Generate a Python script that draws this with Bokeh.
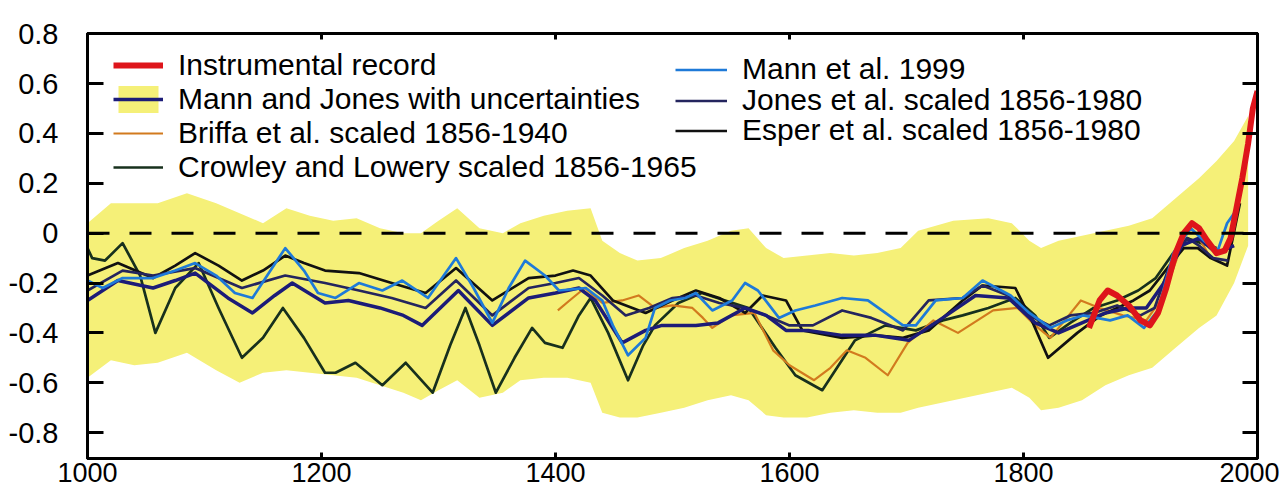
from bokeh.plotting import figure
from bokeh.models import (Range1d, LinearAxis, FixedTicker, Legend, LegendItem, Span,
                          CustomJSTickFormatter)
from bokeh.embed import file_html
from bokeh.resources import INLINE

FONT = "Liberation Sans"

# ---------------- data ----------------
x_ticks = [1000, 1200, 1400, 1600, 1800, 2000]
y_ticks = [-0.8, -0.6, -0.4, -0.2, 0.0, 0.2, 0.4, 0.6, 0.8]

band_years = [1000, 1020, 1040, 1060, 1085, 1110, 1130, 1150, 1170, 1190, 1210, 1230, 1250, 1270,
              1285, 1300, 1316, 1335, 1355, 1370, 1390, 1410, 1430, 1440, 1455, 1470, 1490, 1510,
              1530, 1550, 1565, 1580, 1595, 1615, 1635, 1655, 1675, 1695, 1710, 1740, 1770, 1790,
              1805, 1815, 1830, 1850, 1870, 1890, 1910, 1930, 1950, 1965, 1980, 1992]
band_upper = [0.04, 0.12, 0.12, 0.12, 0.16, 0.12, 0.08, 0.04, 0.10, 0.07, 0.05, 0.06, 0.02, 0.00,
              0.00, 0.05, 0.10, 0.02, 0.00, 0.04, 0.07, 0.09, 0.10, -0.03, -0.08, -0.11, -0.10, -0.06,
              -0.03, 0.01, 0.02, -0.06, -0.10, -0.09, -0.08, -0.09, -0.08, -0.06, 0.01, 0.05, 0.06, 0.04,
              -0.03, -0.06, -0.03, -0.01, 0.01, 0.03, 0.06, 0.14, 0.22, 0.29, 0.37, 0.47]
band_lower = [-0.58, -0.51, -0.53, -0.52, -0.48, -0.55, -0.60, -0.56, -0.55, -0.56, -0.57, -0.58, -0.61, -0.64,
              -0.67, -0.63, -0.59, -0.66, -0.64, -0.59, -0.58, -0.58, -0.60, -0.72, -0.74, -0.74, -0.72, -0.70,
              -0.67, -0.65, -0.67, -0.73, -0.74, -0.74, -0.72, -0.71, -0.72, -0.72, -0.70, -0.67, -0.64, -0.62,
              -0.66, -0.71, -0.70, -0.67, -0.61, -0.57, -0.54, -0.46, -0.38, -0.33, -0.20, -0.05]

mj_years = [1000, 1026, 1056, 1075, 1092, 1120, 1141, 1160, 1175, 1203, 1223, 1250, 1270, 1286, 1317,
            1346, 1377, 1400, 1420, 1434, 1457, 1477, 1491, 1520, 1539, 1562, 1580, 1597, 1616, 1645,
            1674, 1702, 1731, 1759, 1787, 1810, 1830, 1850, 1870, 1890, 1905, 1920, 1935, 1950, 1965, 1980]
mj_vals = [-0.27, -0.19, -0.22, -0.19, -0.16, -0.26, -0.32, -0.25, -0.20, -0.28, -0.27, -0.30, -0.33, -0.37, -0.23,
           -0.37, -0.26, -0.24, -0.22, -0.27, -0.44, -0.39, -0.37, -0.37, -0.36, -0.30, -0.33, -0.39, -0.39, -0.41,
           -0.41, -0.43, -0.34, -0.25, -0.26, -0.36, -0.40, -0.36, -0.32, -0.30, -0.30, -0.20, -0.05, -0.02, -0.08, -0.05]

m99_years = [1000, 1013, 1030, 1056, 1075, 1092, 1110, 1126, 1141, 1155, 1169, 1185, 1197, 1212, 1232, 1252,
             1269, 1291, 1315, 1330, 1346, 1360, 1374, 1391, 1403, 1426, 1440, 1449, 1462, 1477, 1485, 1498,
             1511, 1520, 1534, 1551, 1562, 1573, 1591, 1605, 1622, 1645, 1667, 1697, 1708, 1725, 1748, 1765,
             1789, 1805, 1823, 1837, 1851, 1874, 1889, 1903, 1915, 1928, 1943, 1954, 1966, 1974, 1980]
m99_vals = [-0.19, -0.22, -0.18, -0.18, -0.15, -0.12, -0.17, -0.24, -0.26, -0.16, -0.06, -0.15, -0.24, -0.26, -0.20, -0.23,
            -0.19, -0.26, -0.10, -0.22, -0.36, -0.22, -0.11, -0.17, -0.23, -0.22, -0.27, -0.37, -0.49, -0.42, -0.30, -0.27,
            -0.26, -0.24, -0.31, -0.27, -0.20, -0.23, -0.34, -0.31, -0.29, -0.26, -0.27, -0.37, -0.37, -0.27, -0.26, -0.19,
            -0.25, -0.32, -0.38, -0.35, -0.33, -0.35, -0.33, -0.38, -0.31, -0.08, 0.02, -0.03, -0.07, 0.04, 0.08]

jones_years = [1000, 1030, 1056, 1092, 1132, 1169, 1203, 1232, 1260, 1289, 1315, 1346, 1377, 1400, 1420,
               1440, 1460, 1480, 1500, 1520, 1540, 1562, 1580, 1600, 1620, 1645, 1670, 1697, 1719, 1748,
               1765, 1787, 1805, 1822, 1840, 1860, 1880, 1900, 1912, 1925, 1940, 1950, 1962, 1975]
jones_vals = [-0.23, -0.15, -0.17, -0.14, -0.22, -0.17, -0.20, -0.23, -0.26, -0.30, -0.19, -0.33, -0.22, -0.20, -0.18,
              -0.25, -0.33, -0.30, -0.26, -0.25, -0.28, -0.30, -0.33, -0.37, -0.37, -0.31, -0.34, -0.39, -0.27, -0.26,
              -0.21, -0.25, -0.33, -0.37, -0.33, -0.32, -0.29, -0.33, -0.30, -0.13, -0.02, -0.05, -0.10, -0.11]

esper_years = [1000, 1026, 1056, 1075, 1092, 1112, 1132, 1150, 1169, 1185, 1203, 1232, 1260, 1289, 1315, 1346,
               1377, 1400, 1415, 1430, 1449, 1477, 1500, 1520, 1540, 1562, 1577, 1597, 1611, 1645, 1674, 1697,
               1719, 1748, 1765, 1793, 1808, 1821, 1846, 1866, 1894, 1908, 1923, 1937, 1949, 1960, 1974, 1985]
esper_vals = [-0.17, -0.12, -0.18, -0.13, -0.08, -0.13, -0.19, -0.15, -0.09, -0.12, -0.15, -0.16, -0.20, -0.24, -0.14, -0.27,
              -0.18, -0.17, -0.15, -0.17, -0.27, -0.32, -0.27, -0.23, -0.26, -0.32, -0.25, -0.27, -0.39, -0.42, -0.41, -0.42,
              -0.39, -0.27, -0.21, -0.22, -0.36, -0.50, -0.40, -0.33, -0.27, -0.23, -0.14, -0.06, -0.06, -0.10, -0.13, 0.12]

crowley_years = [1000, 1004, 1015, 1030, 1045, 1058, 1075, 1095, 1112, 1132, 1150, 1167, 1185, 1203, 1212, 1229,
                 1252, 1272, 1295, 1310, 1323, 1335, 1349, 1365, 1380, 1391, 1406, 1420, 1430, 1445, 1462, 1475,
                 1485, 1505, 1525, 1545, 1565, 1588, 1605, 1628, 1656, 1682, 1708, 1731, 1748, 1770, 1793, 1810,
                 1822, 1840, 1860, 1880, 1898, 1913, 1928, 1940, 1952, 1965]
crowley_vals = [-0.06, -0.10, -0.11, -0.04, -0.17, -0.40, -0.22, -0.12, -0.30, -0.50, -0.42, -0.30, -0.42, -0.56, -0.56, -0.52,
                -0.61, -0.52, -0.64, -0.45, -0.30, -0.45, -0.64, -0.50, -0.38, -0.44, -0.46, -0.33, -0.26, -0.40, -0.59, -0.45,
                -0.37, -0.28, -0.24, -0.27, -0.30, -0.46, -0.57, -0.63, -0.43, -0.37, -0.39, -0.35, -0.33, -0.30, -0.26, -0.33,
                -0.42, -0.36, -0.30, -0.27, -0.23, -0.18, -0.08, -0.02, -0.04, -0.06]

briffa_years = [1402, 1412, 1425, 1440, 1457, 1471, 1485, 1500, 1517, 1526, 1534, 1550, 1570, 1586, 1600, 1621,
                1635, 1649, 1665, 1684, 1701, 1723, 1744, 1774, 1795, 1810, 1823, 1837, 1849, 1865, 1885, 1905,
                1920, 1935, 1950, 1960]
briffa_vals = [-0.31, -0.27, -0.22, -0.28, -0.27, -0.25, -0.30, -0.29, -0.30, -0.34, -0.38, -0.33, -0.32, -0.47, -0.53, -0.59,
               -0.54, -0.47, -0.50, -0.57, -0.44, -0.35, -0.40, -0.31, -0.30, -0.37, -0.42, -0.34, -0.27, -0.30, -0.33, -0.35,
               -0.25, -0.05, -0.02, -0.10]

instr_years = [1856, 1865, 1872, 1880, 1890, 1900, 1908, 1915, 1922, 1930, 1937, 1944, 1950, 1957, 1965, 1972,
               1977, 1982, 1987, 1992, 1996, 2000]
instr_vals = [-0.38, -0.27, -0.23, -0.25, -0.29, -0.35, -0.37, -0.32, -0.22, -0.08, 0.00, 0.04, 0.02, -0.03, -0.08, -0.07,
              -0.02, 0.10, 0.22, 0.36, 0.50, 0.57]

labels_left = ["Instrumental record", "Mann and Jones with uncertainties",
               "Briffa et al. scaled 1856-1940", "Crowley and Lowery scaled 1856-1965"]
labels_right = ["Mann et al. 1999", "Jones et al. scaled 1856-1980", "Esper et al. scaled 1856-1980"]

# ---------------- figure ----------------
p = figure(frame_width=1170, frame_height=425, output_backend="svg", toolbar_location=None,
           x_range=Range1d(1000, 2000), y_range=Range1d(-0.904, 0.801),
           min_border_left=87, min_border_right=22, min_border_top=33, min_border_bottom=34,
           background_fill_color="white", border_fill_color="white",
           outline_line_color="black", outline_line_width=3)
p.grid.visible = False

r_band = p.varea(x=band_years, y1=band_lower, y2=band_upper, fill_color="#f5f078", fill_alpha=1.0)
p.add_layout(Span(location=0, dimension="width", line_color="black", line_width=3, line_dash="22 20"))

lw = 2.7
r_cr = p.line(crowley_years, crowley_vals, line_color="#17301d", line_width=lw, line_join="round")
r_br = p.line(briffa_years, briffa_vals, line_color="#d27a1e", line_width=2.2, line_join="round")
r_es = p.line(esper_years, esper_vals, line_color="#111111", line_width=lw, line_join="round")
r_jo = p.line(jones_years, jones_vals, line_color="#24255e", line_width=lw, line_join="round")
r_mj = p.line(mj_years, mj_vals, line_color="#1c1c78", line_width=3.5, line_join="round")
r_m99 = p.line(m99_years, m99_vals, line_color="#1e7ad8", line_width=lw, line_join="round")
r_in = p.line(instr_years, instr_vals, line_color="#de151b", line_width=6, line_join="round")

# ---------------- axes ----------------
xb = p.xaxis[0]
xb.ticker = FixedTicker(ticks=x_ticks)
yl = p.yaxis[0]
yl.ticker = FixedTicker(ticks=y_ticks)
yl.formatter = CustomJSTickFormatter(code="return Math.abs(tick) < 1e-9 ? '0' : tick.toFixed(1);")

for ax in (xb, yl):
    ax.axis_line_width = 3
    ax.axis_line_color = "black"
    ax.major_tick_out = 0
    ax.minor_tick_in = 0
    ax.minor_tick_out = 0
    ax.major_tick_line_width = 3
    ax.major_label_text_font = FONT
    ax.major_label_text_color = "black"
xb.major_label_text_font_size = "27px"
yl.major_label_text_font_size = "29px"
xb.major_tick_in = 6
xb.major_label_standoff = 4
yl.major_tick_in = 16
yl.major_label_standoff = 29

blank = CustomJSTickFormatter(code="return '';")
top = LinearAxis(ticker=FixedTicker(ticks=x_ticks), formatter=blank, axis_line_width=3,
                 major_tick_in=6, major_tick_out=0, minor_tick_in=0, minor_tick_out=0,
                 major_tick_line_width=3, major_label_standoff=0, major_label_text_font_size="1px")
right = LinearAxis(ticker=FixedTicker(ticks=y_ticks), formatter=blank, axis_line_width=3,
                   major_tick_in=15, major_tick_out=0, minor_tick_in=0, minor_tick_out=0,
                   major_tick_line_width=3, major_label_standoff=0, major_label_text_font_size="1px")
p.add_layout(top, "above")
p.add_layout(right, "right")

# ---------------- legends ----------------
def style(leg, gw, gh):
    leg.label_text_font = FONT
    leg.label_text_font_size = "30px"
    leg.label_text_line_height = 1.0
    leg.label_text_color = "black"
    leg.glyph_width = gw
    leg.glyph_height = gh
    leg.label_height = gh
    leg.label_standoff = 15
    leg.spacing = 0
    leg.padding = 6
    leg.margin = 0
    leg.border_line_color = None
    leg.background_fill_color = "white"
    leg.background_fill_alpha = 1.0

leg1 = Legend(items=[LegendItem(label=labels_left[0], renderers=[r_in]),
                     LegendItem(label=labels_left[1], renderers=[r_band, r_mj]),
                     LegendItem(label=labels_left[2], renderers=[r_br]),
                     LegendItem(label=labels_left[3], renderers=[r_cr])],
              location=(26, 274))
style(leg1, 50, 34)
p.add_layout(leg1)

# right-hand column: one small legend per entry so rows sit at the reference spacing
for lab, rend, ypos in zip(labels_right, [r_m99, r_jo, r_es], [372, 341, 311]):
    lg = Legend(items=[LegendItem(label=lab, renderers=[rend])], location=(588, ypos))
    style(lg, 52, 31)
    p.add_layout(lg)

open("out.html", "w").write(file_html(p, INLINE))
